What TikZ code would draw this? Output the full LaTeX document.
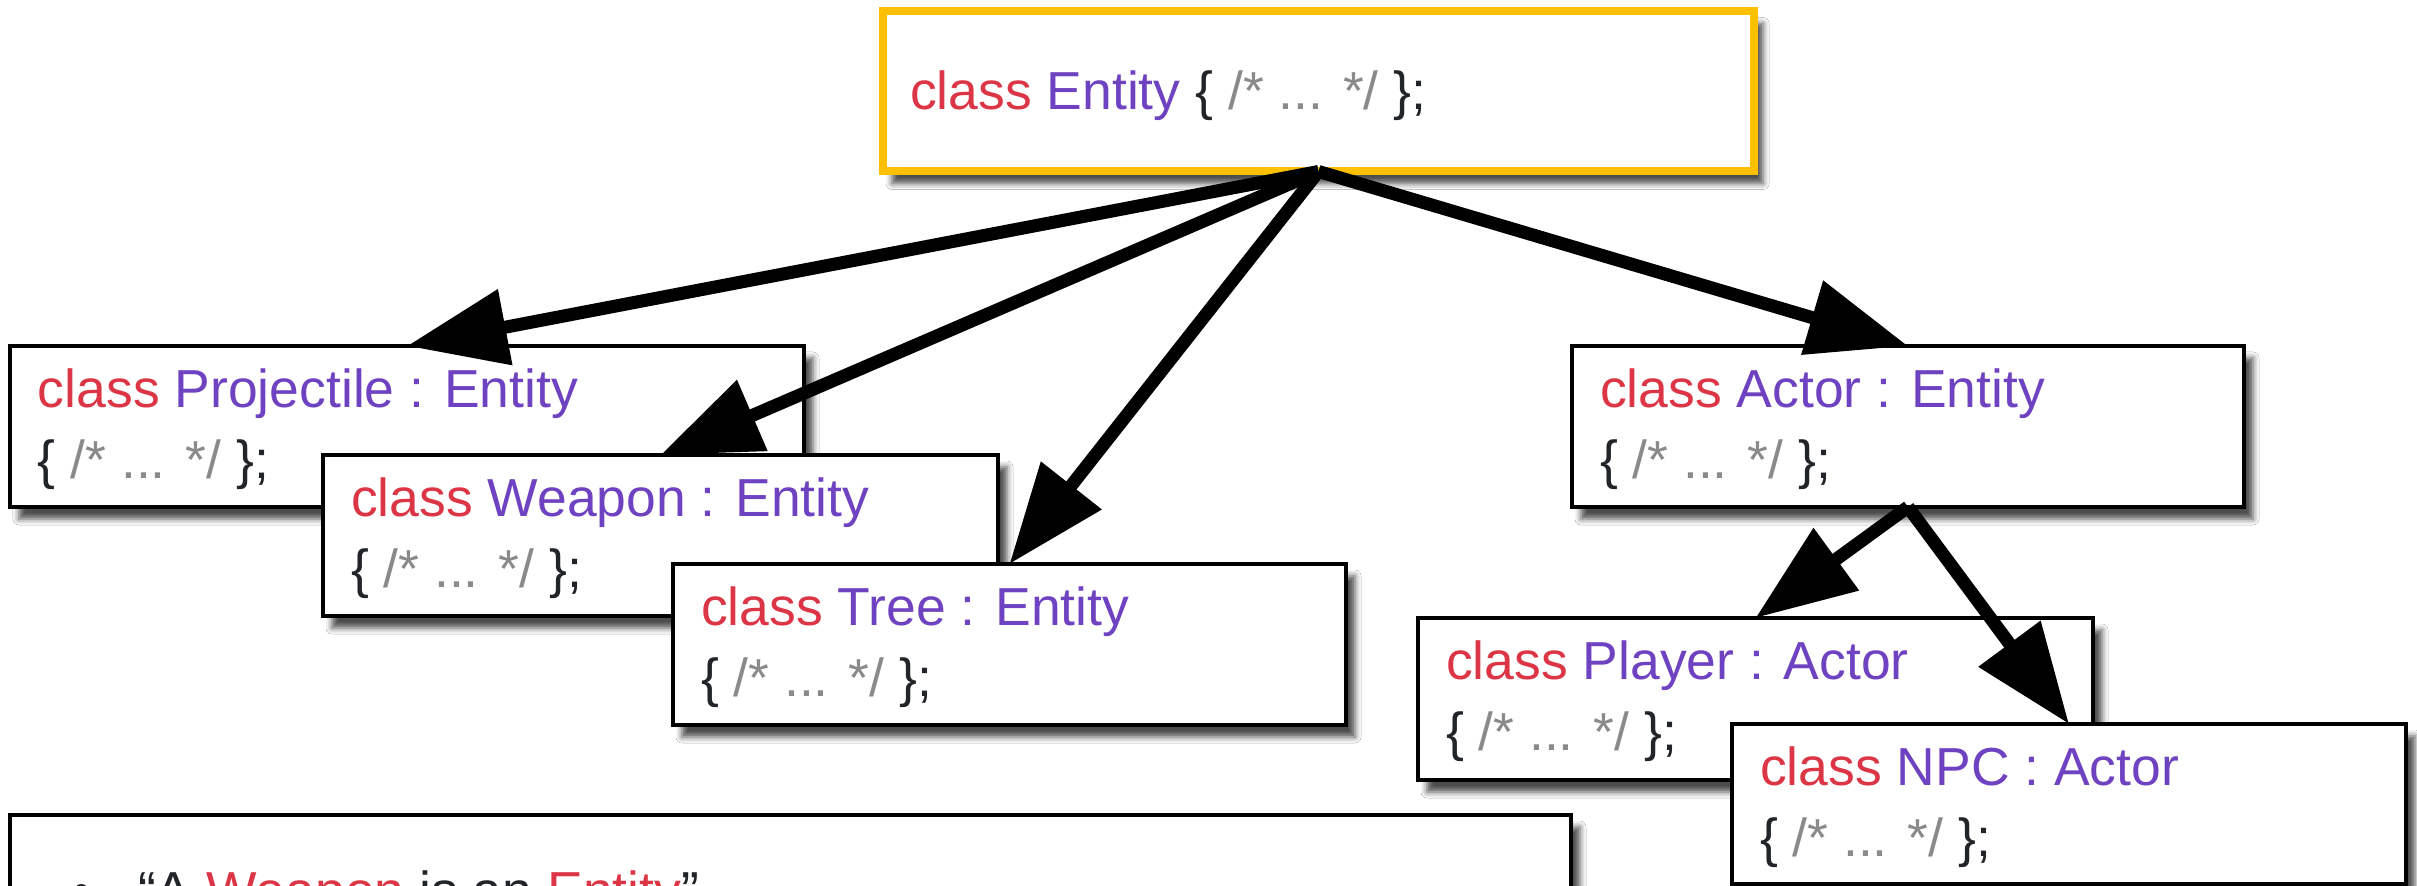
\documentclass[tikz,border=0pt]{standalone}
\usepackage{fontspec}
\setmainfont{Liberation Sans}
\usetikzlibrary{arrows.meta,calc,shadows.blur}

\definecolor{kwred}{HTML}{DC3545}
\definecolor{typurple}{HTML}{6F42C1}
\definecolor{codedark}{HTML}{212529}
\definecolor{cmtgray}{HTML}{8A8A8A}
\definecolor{rootyellow}{HTML}{FFC000}

\newcommand\codefont{\fontsize{26.75pt}{32pt}\selectfont}
\newcommand\ckw[1]{\textcolor{kwred}{#1}}
\newcommand\cty[1]{\textcolor{typurple}{#1}}
\newcommand\cbody{\textcolor{codedark}{\{} \textcolor{cmtgray}{/* ... */} \textcolor{codedark}{\};}}

\tikzset{
  classbox/.style={rectangle, draw=black, line width=1.75pt, fill=white,
    inner sep=0pt, outer sep=0pt, anchor=north west,
    blur shadow={shadow xshift=4.5pt, shadow yshift=-6pt,
      shadow blur radius=3pt, shadow opacity=70}},
  rootbox/.style={classbox, draw=rootyellow, line width=4pt},
  codeline/.style={anchor=base west, inner sep=0pt, outer sep=0pt,
    font=\codefont, text=codedark},
  inherit/.style={line width=6.5pt, draw=black,
    -{Triangle[length=50pt,width=37pt]}},
}

\begin{document}
\begin{tikzpicture}[x=0.5pt,y=-0.5pt]
\clip (0,0) rectangle (2417,886);
\fill[white] (0,0) rectangle (2417,886);

% base class
\node[rootbox, minimum width=435.5pt, minimum height=80pt] (entity) at (883,11.5) {};
\node[codeline] (entity-l1) at ($(entity.north west)+(27,98.5)$)
  {\ckw{class} \cty{Entity} \cbody};

% first level of derived classes
\node[classbox, minimum width=397pt, minimum height=80.5pt] (proj) at (10,346) {};
\node[codeline] (proj-l1) at ($(proj.north west)+(28,62)$) {\ckw{class} \cty{Projectile : Entity}};
\node[codeline] (proj-l2) at ($(proj.north west)+(28,133)$) {\cbody};

\node[classbox, minimum width=337.5pt, minimum height=80.5pt] (weapon) at (323,455) {};
\node[codeline] (weapon-l1) at ($(weapon.north west)+(28,62)$) {\ckw{class} \cty{Weapon : Entity}};
\node[codeline] (weapon-l2) at ($(weapon.north west)+(28,133)$) {\cbody};

\node[classbox, minimum width=336.5pt, minimum height=80.5pt] (tree) at (673,564) {};
\node[codeline] (tree-l1) at ($(tree.north west)+(28,62)$) {\ckw{class} \cty{Tree : Entity}};
\node[codeline] (tree-l2) at ($(tree.north west)+(28,133)$) {\cbody};

\node[classbox, minimum width=336pt, minimum height=80.5pt] (actor) at (1572,346) {};
\node[codeline] (actor-l1) at ($(actor.north west)+(28,62)$) {\ckw{class} \cty{Actor : Entity}};
\node[codeline] (actor-l2) at ($(actor.north west)+(28,133)$) {\cbody};

% second level
\node[classbox, minimum width=337.5pt, minimum height=81pt] (player) at (1418,618) {};
\node[codeline] (player-l1) at ($(player.north west)+(28,62)$) {\ckw{class} \cty{Player : Actor}};
\node[codeline] (player-l2) at ($(player.north west)+(28,133)$) {\cbody};

\node[classbox, minimum width=337pt, minimum height=80pt] (npc) at (1732,724) {};
\node[codeline] (npc-l1) at ($(npc.north west)+(28,62)$) {\ckw{class} \cty{NPC : Actor}};
\node[codeline] (npc-l2) at ($(npc.north west)+(28,133)$) {\cbody};

% notes panel
\node[classbox, minimum width=780.5pt, minimum height=200pt] (notes) at (10,815) {};
\node[codeline] (notes-bullet) at ($(notes.north west)+(62,95)$) {•};
\node[codeline] (notes-l1) at ($(notes.north west)+(128,95)$)
  {“A \ckw{Weapon} is an \ckw{Entity}”};

% inheritance arrows
\draw[inherit] (entity.south) -- (proj.north);
\draw[inherit] (entity.south) -- (weapon.north);
\draw[inherit] (entity.south) -- (tree.north);
\draw[inherit] (entity.south) -- (actor.north);
\draw[inherit] (actor.south) -- (player.north);
\draw[inherit] (actor.south) -- (npc.north);
\end{tikzpicture}
\end{document}
